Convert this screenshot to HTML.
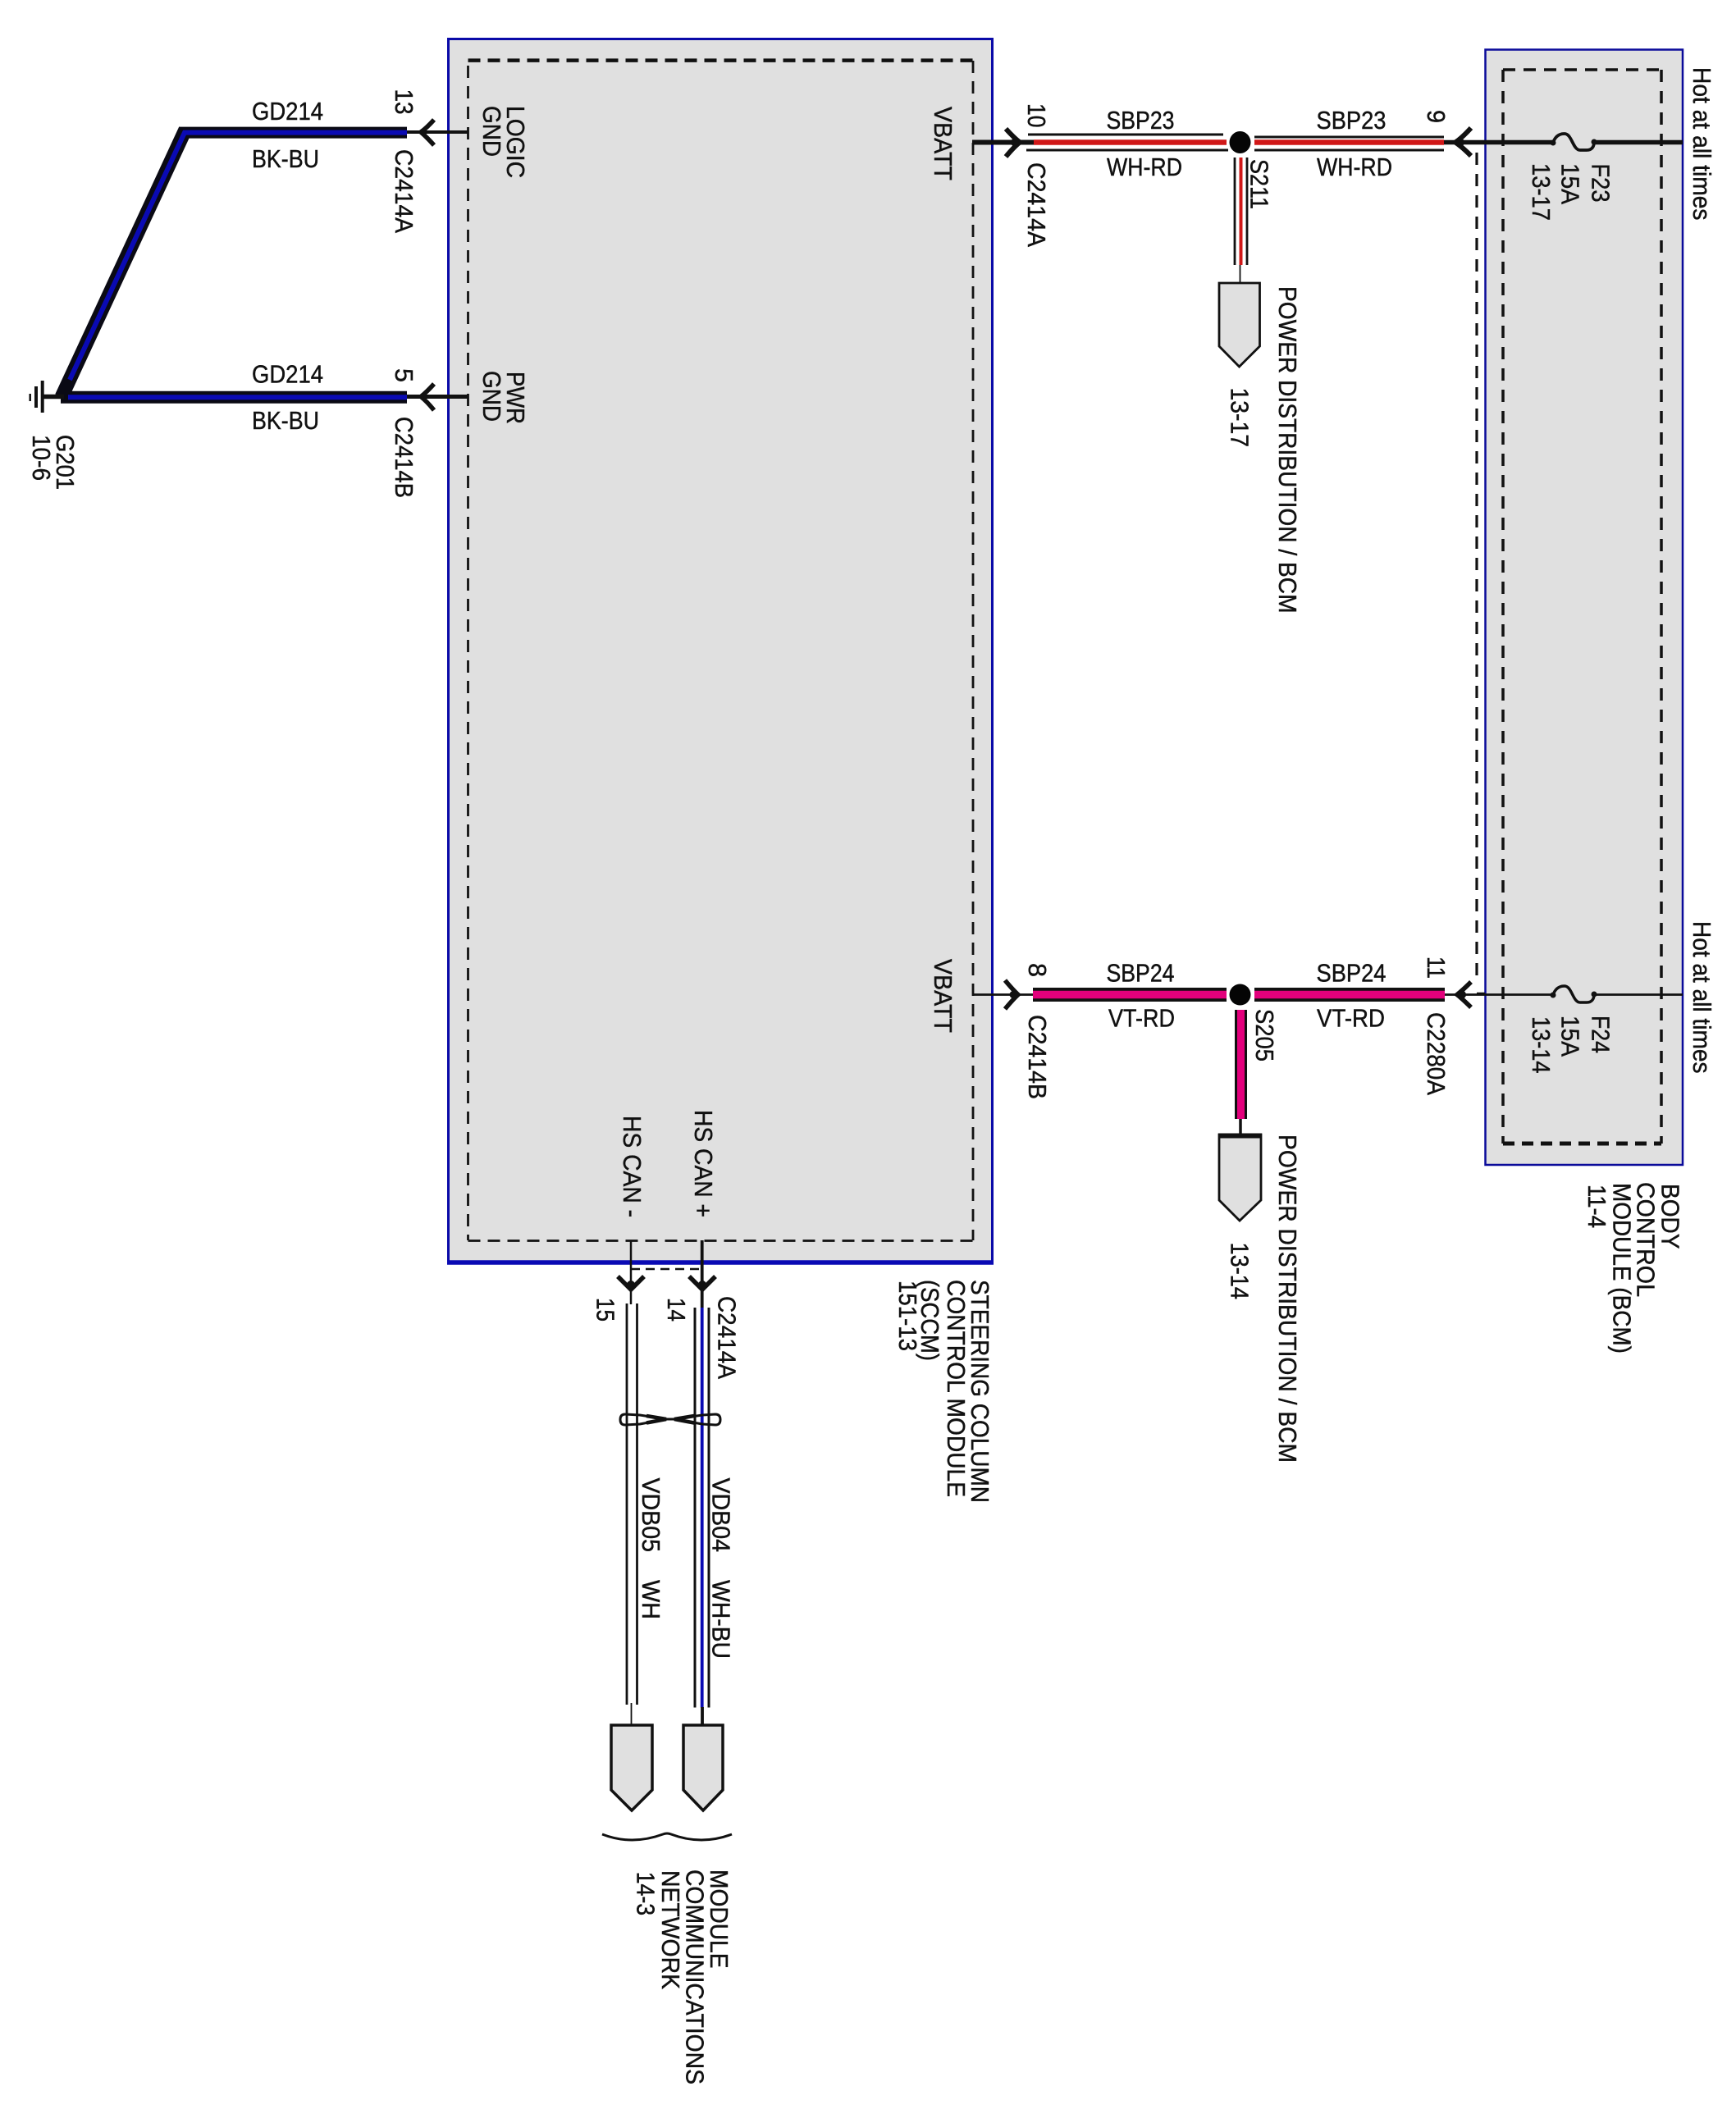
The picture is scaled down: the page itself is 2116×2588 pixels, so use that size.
<!DOCTYPE html>
<html><head><meta charset="utf-8"><title>Wiring diagram</title>
<style>
html,body{margin:0;padding:0;background:#fff}
svg{display:block}
text{font-family:"Liberation Sans",Arial,sans-serif;font-size:30.5px;fill:#111;stroke:#111;stroke-width:.45px}
</style></head><body>
<svg xmlns="http://www.w3.org/2000/svg" width="2116" height="2588" viewBox="0 0 2116 2588">
<rect width="2116" height="2588" fill="#fff"/>

<!-- SCCM box -->
<rect x="546.5" y="47.5" width="663" height="1491" fill="#e0e0e0" stroke="#0a0aa8" stroke-width="3"/>
<line x1="545" y1="1539" x2="1211" y2="1539" stroke="#0a0ab4" stroke-width="5.5"/>
<g fill="none" stroke="#111">
<path d="M570.5 73.6H1186" stroke-width="4.5" stroke-dasharray="15 9"/>
<path d="M570.5 80V1512" stroke-width="2.8" stroke-dasharray="15 10"/>
<path d="M1186 74V1512" stroke-width="2.8" stroke-dasharray="15 10"/>
<path d="M570.5 1512.5H1186" stroke-width="2.8" stroke-dasharray="15 9"/>
</g>

<!-- BCM box -->
<rect x="1810.5" y="60.5" width="240.5" height="1359.5" fill="#e0e0e0" stroke="#0a0a9a" stroke-width="2.5"/>
<g fill="none" stroke="#111">
<path d="M1832 85H2025" stroke-width="3.5" stroke-dasharray="15 10"/>
<path d="M1832 85V1394" stroke-width="3.5" stroke-dasharray="15 11"/>
<path d="M2025 85V1394" stroke-width="3.5" stroke-dasharray="15 11"/>
<path d="M1832 1394H2025" stroke-width="5" stroke-dasharray="14 9"/>
<path d="M1800 186V1197" stroke-width="3.2" stroke-dasharray="15 11"/>
<path d="M1800 1211H1810" stroke-width="2.5"/>
</g>

<!-- Ground wires -->
<g fill="none">
<path d="M226 158L75 484" stroke="#0a0a14" stroke-width="17"/>
<path d="M496 161.6H219" stroke="#0a0a14" stroke-width="14"/>
<path d="M74 484.2H496" stroke="#0a0a14" stroke-width="15"/>
<path d="M496 161.6H225L85 463" stroke="#0a0ab4" stroke-width="6"/>
<path d="M83 484.2H496" stroke="#0a0ab4" stroke-width="6"/>
</g>
<g stroke="#111" fill="none">
<path d="M496 161H570" stroke-width="4"/>
<path d="M496 483.5H570" stroke-width="5"/>
<path d="M529 146Q520 156 513 161Q520 167 529 177" stroke-width="5.5"/>
<path d="M529 468Q520 478 513 483.5Q520 489 529 500" stroke-width="5.5"/>
<path d="M51.7 483.5H78" stroke-width="5.5"/>
<path d="M51.7 464V503" stroke-width="4"/>
<path d="M44 471V497" stroke-width="4"/>
<path d="M36.7 480V489" stroke-width="2.5"/>
</g>
<circle cx="516" cy="161" r="4.5" fill="#111"/>
<circle cx="516" cy="483.5" r="4.5" fill="#111"/>

<!-- SBP23 -->
<g fill="none">
<path d="M1185 173.5H1262" stroke="#111" stroke-width="6"/>
<path d="M1226 157Q1236 168 1243 173.5Q1236 179 1226 191" stroke="#111" stroke-width="6"/>
<path d="M1253 164H1491M1251 183H1497" stroke="#111" stroke-width="3"/>
<path d="M1260 173.5H1495M1529 173.5H1760" stroke="#d01818" stroke-width="6.5"/>
<path d="M1529 167H1760M1529 183H1760" stroke="#111" stroke-width="3"/>
<path d="M1793 156Q1782 168 1774 173.5Q1782 179 1793 190" stroke="#111" stroke-width="6"/>
<path d="M1760 173.5H1893M1943 173.5H2051" stroke="#111" stroke-width="5.5"/>
<path d="M1893 174C1896 165,1902 163,1907 163C1916 163,1917 183,1926 183L1934 183C1941 183,1943 178,1943 173" stroke="#111" stroke-width="3.8"/>
<path d="M1505 192V323M1520 192V323" stroke="#111" stroke-width="2.8"/>
<path d="M1512.5 192V323" stroke="#d01818" stroke-width="4"/>
<path d="M1511.5 323V345" stroke="#111" stroke-width="1.8"/>
</g>
<circle cx="1237" cy="173.5" r="5" fill="#111"/>
<circle cx="1780" cy="173.5" r="5" fill="#111"/>
<ellipse cx="1511.5" cy="173.5" rx="13" ry="13.5" fill="#050505"/>
<path d="M1486 345H1535.5V422L1510.5 447L1486 422Z" fill="#e0e0e0" stroke="#111" stroke-width="2.8"/>

<!-- SBP24 -->
<g fill="none">
<path d="M1185 1212.5H1259" stroke="#111" stroke-width="2.8"/>
<path d="M1225 1195Q1235 1207 1241 1212.5Q1235 1218 1225 1230" stroke="#111" stroke-width="5.5"/>
<path d="M1259 1212.5H1495M1529 1212.5H1761" stroke="#111" stroke-width="17"/>
<path d="M1259 1212.5H1495M1529 1212.5H1761" stroke="#e3007c" stroke-width="9.5"/>
<path d="M1793 1197Q1783 1207 1776 1212.5Q1783 1218 1793 1228" stroke="#111" stroke-width="5.5"/>
<path d="M1761 1212.5H1893M1943 1212.5H2051" stroke="#111" stroke-width="2.8"/>
<path d="M1893 1213C1896 1204,1902 1202,1907 1202C1916 1202,1917 1222,1926 1222L1934 1222C1941 1222,1943 1217,1943 1212" stroke="#111" stroke-width="3.5"/>
<path d="M1512.5 1231V1364" stroke="#111" stroke-width="15"/>
<path d="M1512.5 1231V1364" stroke="#e3007c" stroke-width="9"/>
<path d="M1512 1364V1382" stroke="#111" stroke-width="3.5"/>
</g>
<circle cx="1235" cy="1212.5" r="4.5" fill="#111"/>
<circle cx="1782" cy="1212.5" r="5" fill="#111"/>
<circle cx="1893" cy="1213" r="3.5" fill="#111"/>
<circle cx="1943" cy="1212" r="3.5" fill="#111"/>
<circle cx="1893" cy="174" r="3.5" fill="#111"/>
<circle cx="1943" cy="173" r="3.5" fill="#111"/>
<ellipse cx="1511.5" cy="1212.5" rx="13" ry="13" fill="#050505"/>
<path d="M1486 1383H1537V1463L1511 1488L1486 1463Z" fill="#e0e0e0" stroke="#111" stroke-width="2.8"/>
<line x1="1485" y1="1384.5" x2="1538" y2="1384.5" stroke="#111" stroke-width="6"/>

<!-- CAN wires -->
<g fill="none">
<path d="M769 1512V1590" stroke="#111" stroke-width="2.5"/>
<path d="M855.7 1512V1594" stroke="#111" stroke-width="3.8"/>
<path d="M769 1547H856" stroke="#111" stroke-width="2.5" stroke-dasharray="11 7"/>
<path d="M753 1556Q763 1566 769 1572Q775 1566 785 1556" stroke="#111" stroke-width="5.5"/>
<path d="M840 1556Q850 1566 856 1572Q862 1566 872 1556" stroke="#111" stroke-width="5.5"/>
<path d="M764 1589V2078M776.5 1589V2078" stroke="#111" stroke-width="2.8"/>
<path d="M847 1594V2081.5M864 1594V2081.5" stroke="#111" stroke-width="3"/>
<path d="M855.7 1594V2081.5" stroke="#0a0ab4" stroke-width="3.8"/>
<path d="M769.5 2076V2102" stroke="#111" stroke-width="1.8"/>
<path d="M856 2081V2102" stroke="#111" stroke-width="3.8"/>
<!-- twist -->
<path d="M812 1730L780 1725L762 1724Q756 1724 756 1730.5Q756 1737 762 1737L780 1736L812 1730H822L856 1725L872 1724Q878 1724 878 1730.5Q878 1737 872 1737L856 1736L822 1730" stroke="#111" stroke-width="3"/>
<path d="M788 1726L812 1730L788 1734.5M846 1726L822 1730L846 1734.5" stroke="#111" stroke-width="4.5"/>
</g>
<circle cx="769" cy="1566" r="5" fill="#111"/>
<circle cx="856" cy="1566" r="5" fill="#111"/>
<path d="M745 2103H795V2182L770 2207L745 2182Z" fill="#e0e0e0" stroke="#111" stroke-width="3.5"/>
<path d="M833 2103H881V2182L857 2207L833 2182Z" fill="#e0e0e0" stroke="#111" stroke-width="3.5"/>
<path d="M734 2236Q770 2250 808 2236Q813 2234 818 2236Q855 2250 892 2236" fill="none" stroke="#111" stroke-width="3"/>

<!-- horizontal labels -->
<text x="307" y="146" textLength="87" lengthAdjust="spacingAndGlyphs">GD214</text>
<text x="307" y="204" textLength="82" lengthAdjust="spacingAndGlyphs">BK-BU</text>
<text x="307" y="466.5" textLength="87" lengthAdjust="spacingAndGlyphs">GD214</text>
<text x="307" y="523" textLength="82" lengthAdjust="spacingAndGlyphs">BK-BU</text>
<text x="1348.5" y="157" textLength="83" lengthAdjust="spacingAndGlyphs">SBP23</text>
<text x="1349" y="214" textLength="92" lengthAdjust="spacingAndGlyphs">WH-RD</text>
<text x="1604.5" y="157" textLength="85" lengthAdjust="spacingAndGlyphs">SBP23</text>
<text x="1605" y="214" textLength="92" lengthAdjust="spacingAndGlyphs">WH-RD</text>
<text x="1348.5" y="1196.5" textLength="83" lengthAdjust="spacingAndGlyphs">SBP24</text>
<text x="1351" y="1251.5" textLength="81" lengthAdjust="spacingAndGlyphs">VT-RD</text>
<text x="1604.5" y="1196.5" textLength="85" lengthAdjust="spacingAndGlyphs">SBP24</text>
<text x="1605" y="1251.5" textLength="83" lengthAdjust="spacingAndGlyphs">VT-RD</text>

<!-- rotated labels -->
<text transform="translate(482,108.5) rotate(90)" textLength="31" lengthAdjust="spacingAndGlyphs">13</text>
<text transform="translate(482,182) rotate(90)" textLength="102" lengthAdjust="spacingAndGlyphs">C2414A</text>
<text transform="translate(618,129) rotate(90)" textLength="88" lengthAdjust="spacingAndGlyphs">LOGIC</text>
<text transform="translate(589,129) rotate(90)" textLength="62" lengthAdjust="spacingAndGlyphs">GND</text>
<text transform="translate(618,453) rotate(90)" textLength="64" lengthAdjust="spacingAndGlyphs">PWR</text>
<text transform="translate(589,452) rotate(90)" textLength="62" lengthAdjust="spacingAndGlyphs">GND</text>
<text transform="translate(482,449) rotate(90)" textLength="17" lengthAdjust="spacingAndGlyphs">5</text>
<text transform="translate(482,508) rotate(90)" textLength="99" lengthAdjust="spacingAndGlyphs">C2414B</text>
<text transform="translate(69,530) rotate(90)" textLength="67" lengthAdjust="spacingAndGlyphs">G201</text>
<text transform="translate(40,530) rotate(90)" textLength="56" lengthAdjust="spacingAndGlyphs">10-6</text>

<text transform="translate(1139,130) rotate(90)" textLength="90" lengthAdjust="spacingAndGlyphs">VBATT</text>
<text transform="translate(1253,126) rotate(90)" textLength="29.5" lengthAdjust="spacingAndGlyphs">10</text>
<text transform="translate(1253,198) rotate(90)" textLength="103" lengthAdjust="spacingAndGlyphs">C2414A</text>
<text transform="translate(1740,134) rotate(90)" textLength="16" lengthAdjust="spacingAndGlyphs">9</text>
<text transform="translate(1524.5,194) rotate(90)" textLength="61" lengthAdjust="spacingAndGlyphs">S211</text>
<text transform="translate(1500.5,472.5) rotate(90)" textLength="72.5" lengthAdjust="spacingAndGlyphs">13-17</text>
<text transform="translate(1559,349) rotate(90)" textLength="398.5" lengthAdjust="spacingAndGlyphs">POWER DISTRIBUTION / BCM</text>
<text transform="translate(2064,82) rotate(90)" textLength="186.5" lengthAdjust="spacingAndGlyphs">Hot at all times</text>
<text transform="translate(1940.6,199.5) rotate(90)" textLength="47" lengthAdjust="spacingAndGlyphs">F23</text>
<text transform="translate(1903.6,199) rotate(90)" textLength="50" lengthAdjust="spacingAndGlyphs">15A</text>
<text transform="translate(1868,199) rotate(90)" textLength="70" lengthAdjust="spacingAndGlyphs">13-17</text>

<text transform="translate(1139,1169) rotate(90)" textLength="90" lengthAdjust="spacingAndGlyphs">VBATT</text>
<text transform="translate(1254,1174) rotate(90)" textLength="17" lengthAdjust="spacingAndGlyphs">8</text>
<text transform="translate(1254,1237) rotate(90)" textLength="103" lengthAdjust="spacingAndGlyphs">C2414B</text>
<text transform="translate(1740,1166) rotate(90)" textLength="27" lengthAdjust="spacingAndGlyphs">11</text>
<text transform="translate(1740,1234) rotate(90)" textLength="101" lengthAdjust="spacingAndGlyphs">C2280A</text>
<text transform="translate(1531,1230) rotate(90)" textLength="64" lengthAdjust="spacingAndGlyphs">S205</text>
<text transform="translate(1500.5,1514.5) rotate(90)" textLength="69.5" lengthAdjust="spacingAndGlyphs">13-14</text>
<text transform="translate(1559,1383) rotate(90)" textLength="400" lengthAdjust="spacingAndGlyphs">POWER DISTRIBUTION / BCM</text>
<text transform="translate(2064,1123) rotate(90)" textLength="185.5" lengthAdjust="spacingAndGlyphs">Hot at all times</text>
<text transform="translate(1940.6,1238) rotate(90)" textLength="46" lengthAdjust="spacingAndGlyphs">F24</text>
<text transform="translate(1903.6,1238) rotate(90)" textLength="50" lengthAdjust="spacingAndGlyphs">15A</text>
<text transform="translate(1868,1239) rotate(90)" textLength="69.5" lengthAdjust="spacingAndGlyphs">13-14</text>

<text transform="translate(2025.5,1443) rotate(90)" textLength="79.5" lengthAdjust="spacingAndGlyphs">BODY</text>
<text transform="translate(1995.7,1441) rotate(90)" textLength="140" lengthAdjust="spacingAndGlyphs">CONTROL</text>
<text transform="translate(1966.5,1442) rotate(90)" textLength="208" lengthAdjust="spacingAndGlyphs">MODULE (BCM)</text>
<text transform="translate(1936,1444) rotate(90)" textLength="53" lengthAdjust="spacingAndGlyphs">11-4</text>

<text transform="translate(1184,1560) rotate(90)" textLength="272" lengthAdjust="spacingAndGlyphs">STEERING COLUMN</text>
<text transform="translate(1155,1560) rotate(90)" textLength="265" lengthAdjust="spacingAndGlyphs">CONTROL MODULE</text>
<text transform="translate(1123,1560) rotate(90)" textLength="99" lengthAdjust="spacingAndGlyphs">(SCCM)</text>
<text transform="translate(1096,1561) rotate(90)" textLength="86" lengthAdjust="spacingAndGlyphs">151-13</text>

<text transform="translate(847,1353) rotate(90)" textLength="131" lengthAdjust="spacingAndGlyphs">HS CAN +</text>
<text transform="translate(760,1360) rotate(90)" textLength="124" lengthAdjust="spacingAndGlyphs">HS CAN -</text>
<text transform="translate(727.5,1582) rotate(90)" textLength="29" lengthAdjust="spacingAndGlyphs">15</text>
<text transform="translate(814,1582) rotate(90)" textLength="29" lengthAdjust="spacingAndGlyphs">14</text>
<text transform="translate(875.7,1580) rotate(90)" textLength="101" lengthAdjust="spacingAndGlyphs">C2414A</text>
<text transform="translate(783,1801.5) rotate(90)" textLength="90.5" lengthAdjust="spacingAndGlyphs">VDB05</text>
<text transform="translate(783,1926) rotate(90)" textLength="48" lengthAdjust="spacingAndGlyphs">WH</text>
<text transform="translate(868.6,1801.5) rotate(90)" textLength="90.5" lengthAdjust="spacingAndGlyphs">VDB04</text>
<text transform="translate(868.6,1926) rotate(90)" textLength="96" lengthAdjust="spacingAndGlyphs">WH-BU</text>

<text transform="translate(866,2279) rotate(90)" textLength="120.5" lengthAdjust="spacingAndGlyphs">MODULE</text>
<text transform="translate(836.4,2279) rotate(90)" textLength="262" lengthAdjust="spacingAndGlyphs">COMMUNICATIONS</text>
<text transform="translate(807,2280) rotate(90)" textLength="145" lengthAdjust="spacingAndGlyphs">NETWORK</text>
<text transform="translate(776.4,2281.6) rotate(90)" textLength="53.5" lengthAdjust="spacingAndGlyphs">14-3</text>
</svg>
</body></html>
